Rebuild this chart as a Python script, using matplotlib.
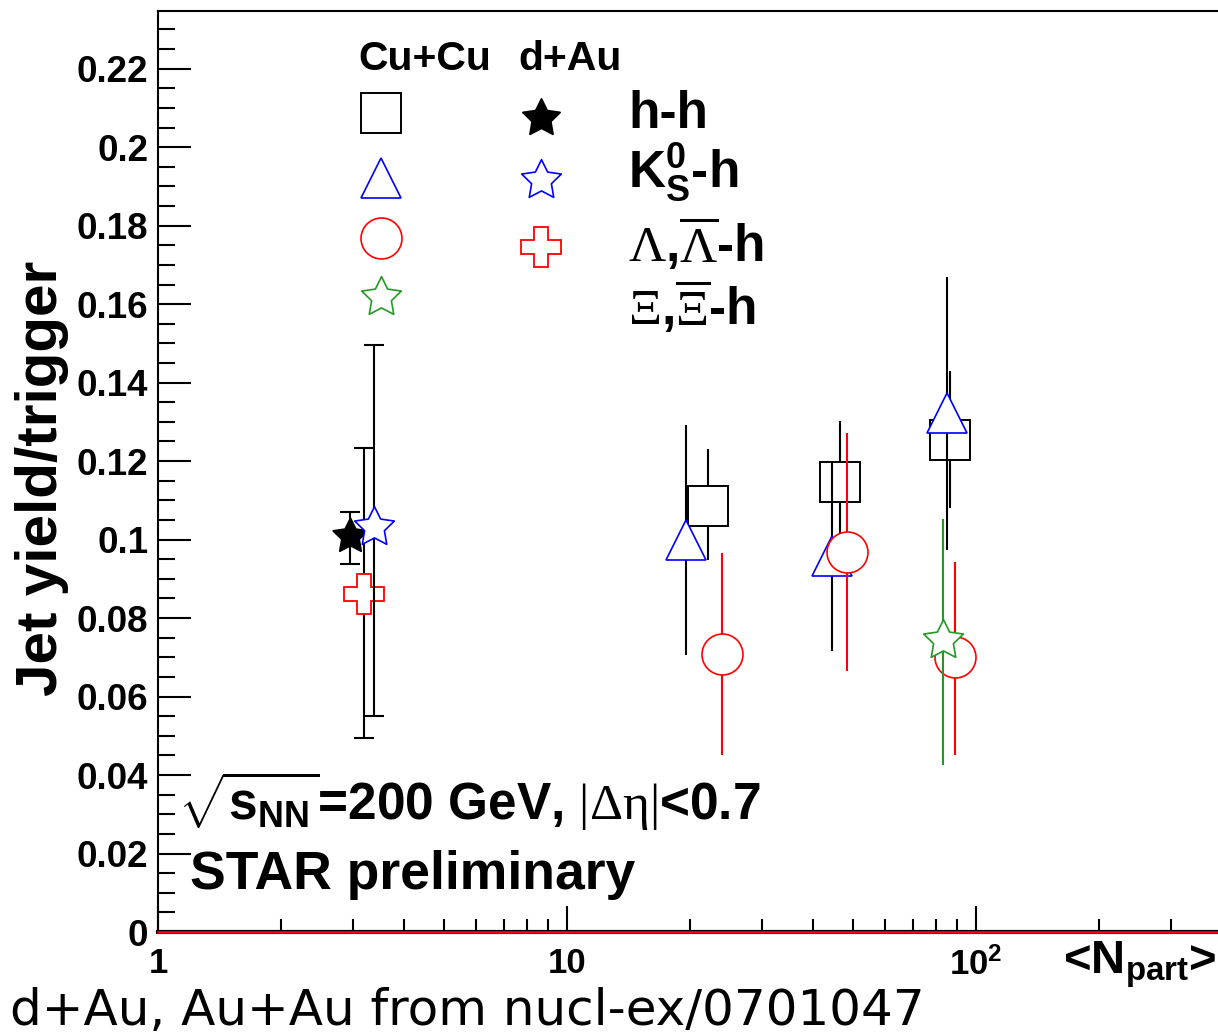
import numpy as np
import matplotlib
matplotlib.use("Agg")
import matplotlib.pyplot as plt
from matplotlib.path import Path
from matplotlib.ticker import MultipleLocator, FuncFormatter, NullFormatter, LogLocator

plt.rcParams['font.family'] = ['Liberation Sans', 'DejaVu Sans']
plt.rcParams['font.weight'] = 'bold'
plt.rcParams['mathtext.fontset'] = 'custom'
plt.rcParams['mathtext.rm'] = 'Liberation Serif:weight=normal'
plt.rcParams['mathtext.bf'] = 'Liberation Sans:weight=bold'
plt.rcParams['mathtext.it'] = 'Liberation Sans:weight=bold'
plt.rcParams['mathtext.sf'] = 'Liberation Sans:weight=bold'

# Cu+Cu, jet yield per trigger vs <Npart>
cu_hh_x = [22.1, 46.5, 86.4]
cu_hh_y = [0.1085, 0.1146, 0.1254]
cu_hh_dn = [0.0137, 0.0155, 0.0174]
cu_hh_up = [0.0146, 0.0156, 0.0175]

cu_k0_x = [19.5, 44.5, 84.9]
cu_k0_y = [0.0999, 0.0958, 0.1322]
cu_k0_dn = [0.0293, 0.0242, 0.0349]
cu_k0_up = [0.0293, 0.0239, 0.0347]

cu_lam_x = [23.9, 48.4, 88.9]
cu_lam_y = [0.0708, 0.0968, 0.0701]
cu_lam_dn = [0.0257, 0.0303, 0.0250]
cu_lam_up = [0.0258, 0.0303, 0.0242]

cu_xi_x = [83.0]
cu_xi_y = [0.0744]
cu_xi_dn = [0.0319]
cu_xi_up = [0.0308]

# d+Au reference points
da_hh_x = [2.95]
da_hh_y = [0.1010]
da_hh_dn = [0.0071]
da_hh_up = [0.0061]

da_k0_x = [3.37]
da_k0_y = [0.1032]
da_k0_dn = [0.0482]
da_k0_up = [0.0464]

da_lam_x = [3.19]
da_lam_y = [0.0861]
da_lam_dn = [0.0367]
da_lam_up = [0.0372]

GREEN = '#229922'
STAR = Path.unit_regular_star(5, innerCircle=0.5)   # fatter star, ROOT style
W, H = 1218, 1032


def px(x, y):
    # pixel position -> figure fraction
    return x / W, 1 - y / H


fig = plt.figure(figsize=(W / 100, H / 100), dpi=100)
ax = fig.add_axes([158 / W, 1 - 932 / H, (1217 - 158) / W, (932 - 11) / H])
ax.set_xscale('log')
ax.set_xlim(1, 388)
ax.set_ylim(0, 0.2347)


def series(x, y, dn, up, marker, color, ecolor, ms, cap=0, mew=1.4, fill='white'):
    ax.errorbar(x, y, yerr=[dn, up], fmt='none', ecolor=ecolor, elinewidth=1.5,
                capsize=cap, capthick=1.5, zorder=3)
    ax.plot(x, y, ls='none', marker=marker, ms=ms, mfc=fill, mec=color, mew=mew, zorder=3)


series(cu_hh_x, cu_hh_y, cu_hh_dn, cu_hh_up, 's', 'black', 'black', 29.5)
series(cu_k0_x, cu_k0_y, cu_k0_dn, cu_k0_up, '^', 'blue', 'black', 29.5, mew=1.2)
series(cu_lam_x, cu_lam_y, cu_lam_dn, cu_lam_up, 'o', 'red', 'red', 29.5, mew=1.2)
series(cu_xi_x, cu_xi_y, cu_xi_dn, cu_xi_up, STAR, GREEN, GREEN, 30, mew=1.2)

series(da_hh_x, da_hh_y, da_hh_dn, da_hh_up, STAR, 'black', 'black', 26, cap=7, fill='black')
series(da_lam_x, da_lam_y, da_lam_dn, da_lam_up, 'P', 'red', 'black', 29.5, cap=7, mew=1.3)
series(da_k0_x, da_k0_y, da_k0_dn, da_k0_up, STAR, 'blue', 'black', 30, cap=7, mew=1.2)

# red line on y = 0
ax.axhline(0, color='red', lw=1.8, zorder=4, clip_on=False)

for s in ['left', 'top']:
    ax.spines[s].set_linewidth(1.5)
ax.spines['bottom'].set_linewidth(3)
ax.spines['right'].set_visible(False)

ax.yaxis.set_major_locator(MultipleLocator(0.02))
ax.yaxis.set_minor_locator(MultipleLocator(0.005))
ax.yaxis.set_major_formatter(FuncFormatter(lambda v, p: f"{round(v, 3):g}"))
ax.tick_params(axis='y', which='major', direction='in', length=24, width=1.5,
               labelsize=26.5, pad=7, right=False)
ax.tick_params(axis='y', which='minor', direction='in', length=12, width=1.5, right=False)

ax.set_xticks([1, 10, 100])
ax.set_xticklabels(['1', '10', r'$\mathbf{10^{2}}$'])
ax.xaxis.set_minor_locator(LogLocator(base=10, subs=np.arange(2, 10)))
ax.xaxis.set_minor_formatter(NullFormatter())
ax.tick_params(axis='x', which='major', direction='in', length=19, width=1.5,
               labelsize=25, pad=11, top=False)
ax.tick_params(axis='x', which='minor', direction='in', length=9.5, width=1.5, top=False)

fig.text(*px(42, 478), 'Jet yield/trigger', rotation=90, fontsize=42,
         ha='center', va='center')
fig.text(*px(1063, 974), r'<N$_{\mathbf{part}}$>', fontsize=34, ha='left', va='baseline')

# legend block
fig.text(*px(358, 70), 'Cu+Cu', fontsize=29.5, va='baseline')
fig.text(*px(518, 70), 'd+Au', fontsize=29.5, va='baseline')


def key(x, y, marker, color, ms, fill='white', mew=1.4):
    fx, fy = px(x, y)
    ax.plot([fx], [fy], transform=fig.transFigure, clip_on=False, ls='none',
            marker=marker, ms=ms, mfc=fill, mec=color, mew=mew)


key(381, 113, 's', 'black', 29.5)
key(381, 178, '^', 'blue', 29.5, mew=1.2)
key(381, 238, 'o', 'red', 29.5, mew=1.2)
key(381, 297, STAR, GREEN, 30, mew=1.2)
key(541, 118, STAR, 'black', 28, fill='black')
key(541, 180, STAR, 'blue', 30, mew=1.2)
key(541, 247, 'P', 'red', 29.5, mew=1.3)

fig.text(*px(628, 128), 'h-h', fontsize=37, va='baseline')
fig.text(*px(628, 188), r'$\mathbf{K^{0}_{S}}$-h', fontsize=37, va='baseline')
fig.text(*px(628, 262), r'$\mathrm{\Lambda}$,$\overline{\mathrm{\Lambda}}$-h', fontsize=37, va='baseline')
fig.text(*px(628, 325), r'$\mathrm{\Xi}$,$\overline{\mathrm{\Xi}}$-h', fontsize=37, va='baseline')

fig.text(*px(178, 820), r'$\sqrt{\mathbf{s_{NN}}}$=200 GeV, $\mathrm{|\Delta\eta|}$<0.7',
         fontsize=37, va='baseline')
fig.text(*px(190, 889), 'STAR preliminary', fontsize=38.5, va='baseline')

fig.text(*px(10, 1025), 'd+Au, Au+Au from nucl-ex/0701047', fontsize=36,
         family='DejaVu Sans', weight='normal', va='baseline')

fig.savefig('out.png', dpi=100)
